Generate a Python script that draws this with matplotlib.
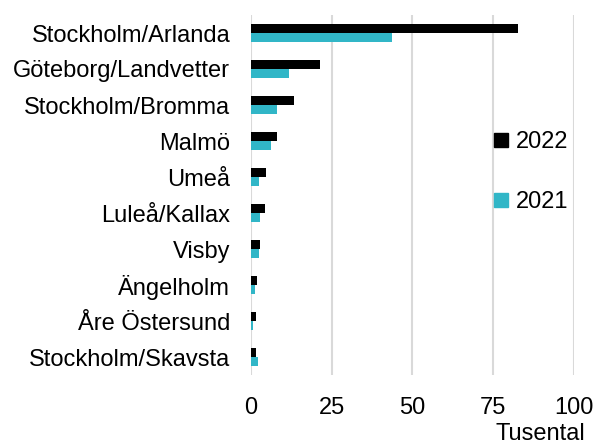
import numpy as np
import matplotlib.pyplot as plt

plt.rcParams['font.family'] = ['Liberation Sans', 'DejaVu Sans']

airports = ["Stockholm/Arlanda", "Göteborg/Landvetter", "Stockholm/Bromma", "Malmö",
            "Umeå", "Luleå/Kallax", "Visby", "Ängelholm", "Åre Östersund",
            "Stockholm/Skavsta"]
values_2022 = [82.7, 21.4, 13.2, 8.1, 4.6, 4.4, 2.8, 1.8, 1.7, 1.5]
values_2021 = [43.5, 11.8, 8.0, 6.1, 2.6, 2.7, 2.4, 1.2, 0.7, 2.1]
xticks = [0, 25, 50, 75, 100]

black = "#000000"
teal = "#31b6c7"
fs = 17

fig = plt.figure(figsize=(5.95, 4.44), dpi=100)
ax = fig.add_axes([251 / 595, 1 - 375 / 444, (574 - 251) / 595, (375 - 15) / 444])

y = np.arange(len(airports))
h = 0.25
ax.barh(y - h / 2, values_2022, height=h, color=black, label="2022")
ax.barh(y + h / 2, values_2021, height=h, color=teal, label="2021")

ax.set_ylim(len(airports) - 0.5, -0.5)
ax.set_xlim(0, 100)
ax.set_xticks(xticks)
ax.set_xticklabels([str(t) for t in xticks], fontsize=fs)
ax.set_yticks(y)
ax.set_yticklabels(airports, fontsize=fs)
ax.tick_params(axis="y", length=0, pad=15)
ax.tick_params(axis="x", length=0, pad=16)
ax.grid(axis="x", color="#d9d9d9", linewidth=1.5)
ax.set_axisbelow(True)
for s in ax.spines.values():
    s.set_visible(False)

handles = [plt.Line2D([], [], marker="s", linestyle="", color=black, markersize=10),
           plt.Line2D([], [], marker="s", linestyle="", color=teal, markersize=10)]
fig.legend(handles, ["2022", "2021"], loc="upper left", bbox_to_anchor=(466 / 595, 1 - 110 / 444),
           frameon=False, fontsize=fs, handletextpad=0.0, labelspacing=1.6, handlelength=1.2)

fig.text(540 / 595, 1 - 434 / 444, "Tusental", fontsize=fs, ha="center", va="center")

fig.savefig("out.png", dpi=100)
